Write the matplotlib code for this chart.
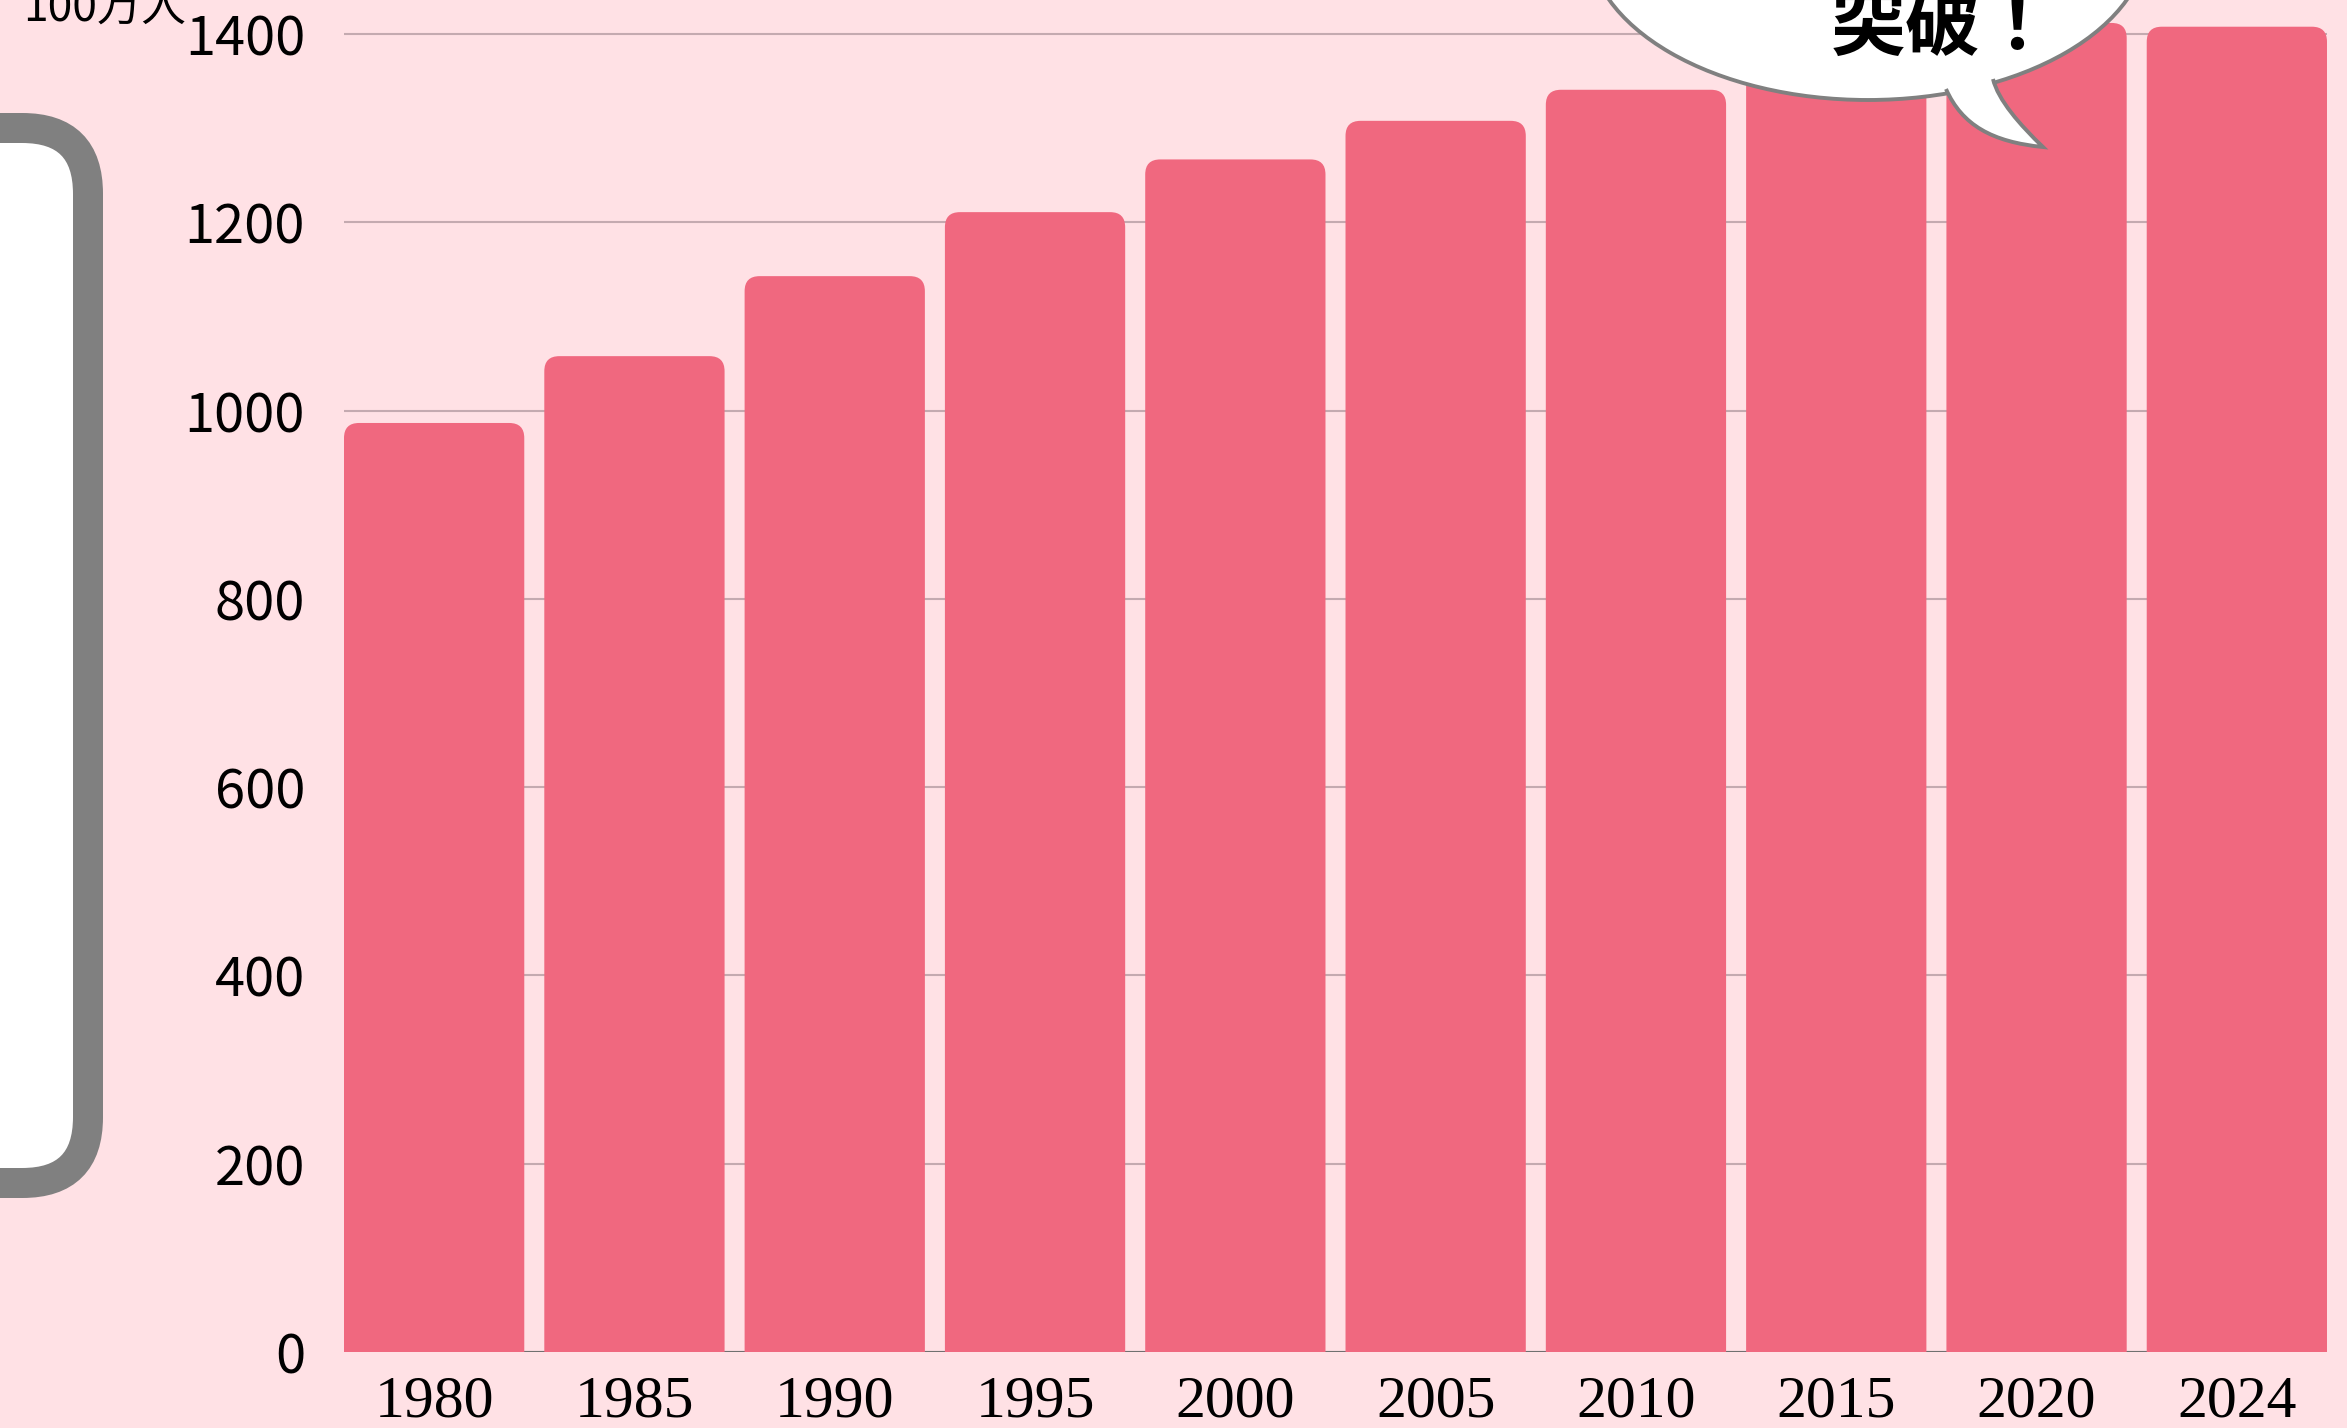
import matplotlib
matplotlib.use('Agg')
import matplotlib.pyplot as plt
from matplotlib.patches import FancyBboxPatch, Ellipse, PathPatch
from matplotlib.path import Path

# ------------ data ------------ #
years = ['1980', '1985', '1990', '1995', '2000', '2005', '2010', '2015', '2020', '2024']
population = [987, 1058, 1143, 1211, 1267, 1308, 1341, 1379, 1412, 1408]  # 100万人
y_ticks = [0, 200, 400, 600, 800, 1000, 1200, 1400]
unit_label = '100万人'
bubble_text = '突破！'

BG = '#FFE1E5'
BAR = '#F0687F'
GRID = '#C4AAB0'
SANS = ['Noto Sans CJK JP', 'DejaVu Sans']

W, H, DPI = 2347, 1428, 100
fig = plt.figure(figsize=(W / DPI, H / DPI), dpi=DPI, facecolor=BG)
ax = fig.add_axes([344 / W, 1 - 1352 / H, (2327 - 344) / W, (1352 - 6) / H])
ax.set_facecolor(BG)

x = list(range(len(years)))
bars = ax.bar(x, population, width=0.9, color=BAR, zorder=3)
# swap plain rectangles for rounded-top boxes (bottom corners hidden below 0)
for rect in bars:
    x0, w, h = rect.get_x(), rect.get_width(), rect.get_height()
    rect.remove()
    ax.add_patch(FancyBboxPatch((x0, -60), w, h + 60,
                                boxstyle='round,pad=0,rounding_size=0.075',
                                mutation_aspect=213, fc=BAR, ec='none', zorder=3))

ax.set_xlim(-0.45, len(years) - 0.55)
ax.set_ylim(0, 1430)
ax.set_yticks(y_ticks)
ax.set_yticklabels([str(v) for v in y_ticks], family=SANS, fontsize=39)
ax.set_xticks(x)
ax.set_xticklabels(years, family='Liberation Serif', fontsize=43)
ax.tick_params(axis='y', length=0, pad=28)
ax.tick_params(axis='x', length=0, pad=17)
for s in ax.spines.values():
    s.set_visible(False)
ax.grid(axis='y', color=GRID, lw=1.5, zorder=1)
ax.axhline(0, color='#707070', lw=1.5, zorder=2)

# unit label at top-left
fig.text(23 / W, 1 - 22 / H, unit_label, family=SANS, fontsize=32,
         ha='left', va='baseline')

# white panel with grey rounded border on the left (runs off the figure)
panel = FancyBboxPatch((-300 / W, 1 - 1183 / H), 388 / W, (1183 - 128) / H,
                       boxstyle='round,pad=0,rounding_size=0.028',
                       mutation_aspect=W / H, transform=fig.transFigure,
                       fc='white', ec='#808080', lw=21.6, zorder=5)
fig.patches.append(panel)


# speech bubble at the top (pixel coords from top-left -> figure fraction)
def fp(px, py):
    return (px / W, 1 - py / H)


bubble = Ellipse(fp(1868, -62), 560 / W, 324 / H, transform=fig.transFigure,
                 fc='white', ec='#808080', lw=2.8, zorder=7)
fig.patches.append(bubble)

tail_pts = [fp(1946, 89), fp(1962, 125), fp(1992, 142), fp(2043, 147),
            fp(2020, 125), fp(1998, 100), fp(1993, 79)]
tail_codes = [Path.MOVETO, Path.CURVE4, Path.CURVE4, Path.CURVE4,
              Path.CURVE4, Path.CURVE4, Path.CURVE4]
tail_fill = PathPatch(Path(tail_pts + [tail_pts[0]], tail_codes + [Path.LINETO]),
                      transform=fig.transFigure, fc='white', ec='none', zorder=8)
tail_edge = PathPatch(Path(tail_pts, tail_codes), transform=fig.transFigure,
                      fc='none', ec='#808080', lw=2.8, zorder=9)
fig.patches.extend([tail_fill, tail_edge])

fig.text(1943 / W, 1 - 50 / H, bubble_text, family=SANS, fontsize=54,
         fontweight='bold', ha='center', va='baseline', zorder=10)

fig.savefig('out.png', dpi=DPI, facecolor=BG)
